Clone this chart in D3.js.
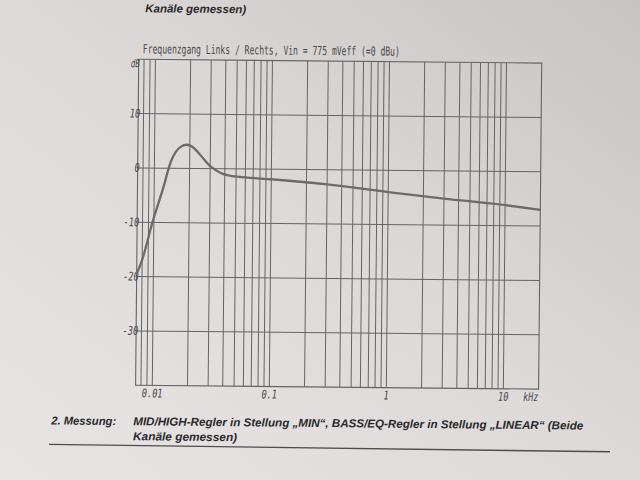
<!DOCTYPE html>
<html>
<head>
<meta charset="utf-8">
<script src="https://cdn.jsdelivr.net/npm/d3@7"></script>
<style>
  body { margin: 0; background: #dcd8d8; }
  svg { display: block; }
</style>
</head>
<body>
<div id="chart"></div>
<script>

// Frequency response plot (photo of a printed sheet)

// Set dimensions and margins for plot
const width = 640;
const height = 480;
const margin = {left:137, right:100, bottom:93, top:61};

// Measured curve, frequency in kHz and level in dB
const freqs = [0.0072, 0.008, 0.0097, 0.012, 0.0138, 0.0152, 0.0168, 0.0188, 0.021, 0.0235,
               0.0265, 0.0295, 0.032, 0.038, 0.044, 0.06, 0.1, 0.3, 1, 3, 10, 20];
const levels = [-19.5, -16.9, -10.1, -3.5, 1.2, 3.0, 4.0, 4.35, 4.0, 3.0,
                1.7, 0.6, 0.0, -0.9, -1.25, -1.55, -1.85, -2.7, -4.0, -5.1, -6.2, -7.0];

// Axis ticks and labels
const xTicks = [0.01, 0.1, 1, 10];
const xTickLabels = ["0.01", "0.1", "1", "10"];
const yTicks = [10, 0, -10, -20, -30];
const yTickLabels = ["10", "0", "-10", "-20", "-30"];

const data = freqs.map((f, i) => ({f: f, db: levels[i]}));

const svg = d3
  .select("#chart")
  .append("svg")
  .attr("width", width)
  .attr("height", height)
  .attr("viewBox", [0, 0, width, height]);

// Paper background, a bit darker top right
const grad = svg.append("defs").append("linearGradient")
  .attr("id", "paper")
  .attr("x1", 0).attr("y1", 1).attr("x2", 1).attr("y2", 0);
grad.append("stop").attr("offset", "0%").attr("stop-color", "#e7e5e3");
grad.append("stop").attr("offset", "55%").attr("stop-color", "#dcd8d8");
grad.append("stop").attr("offset", "100%").attr("stop-color", "#c9c4c4");

svg.append("rect")
  .attr("width", width)
  .attr("height", height)
  .attr("fill", "url(#paper)");

// The sheet is slightly turned in the photo
const page = svg.append("g")
  .attr("transform", "rotate(0.55, 320, 240)");

/*

  Scales

*/

let xScale = d3.scaleLog()
  .domain([0.0072, 20])
  .range([margin.left, width - margin.right]);

let yScale = d3.scaleLinear()
  .domain([-40, 20])
  .range([height - margin.bottom, margin.top]);

const x0 = xScale.range()[0], x1 = xScale.range()[1];
const y0 = yScale.range()[0], y1 = yScale.range()[1];

const plotFont = "'DejaVu Sans Mono', monospace";
const gridColor = "#676363";
const labelColor = "#4a4848";

/*

  Grid

*/

// vertical lines at 1..9 of every decade
page.append("g")
  .selectAll("line")
  .data(xScale.ticks().filter(d => d > 0.0072 && d < 20))
  .enter()
  .append("line")
    .attr("x1", d => xScale(d))
    .attr("x2", d => xScale(d))
    .attr("y1", y1)
    .attr("y2", y0)
    .attr("stroke", gridColor)
    .attr("stroke-width", 1);

// horizontal lines every 10 dB
page.append("g")
  .selectAll("line")
  .data(yTicks)
  .enter()
  .append("line")
    .attr("x1", x0)
    .attr("x2", x1)
    .attr("y1", d => yScale(d))
    .attr("y2", d => yScale(d))
    .attr("stroke", gridColor)
    .attr("stroke-width", 1);

// frame
page.append("rect")
  .attr("x", x0)
  .attr("y", y1)
  .attr("width", x1 - x0)
  .attr("height", y0 - y1)
  .attr("fill", "none")
  .attr("stroke", gridColor)
  .attr("stroke-width", 1.1);

/*

  Axis labels

*/

page.append("g")
  .selectAll("text")
  .data(yTicks)
  .enter()
  .append("text")
    .attr("x", x0 + 2)
    .attr("y", d => yScale(d) + 4)
    .attr("text-anchor", "end")
    .attr("font-family", plotFont)
    .attr("font-style", "oblique")
    .attr("font-size", "12px")
    .attr("fill", labelColor)
    .attr("transform", d => `translate(${x0 + 2},${yScale(d)}) scale(0.72,1) translate(${-(x0 + 2)},${-yScale(d)})`)
    .text((d, i) => yTickLabels[i]);

page.append("text")
  .attr("x", x0 + 1)
  .attr("y", y1 + 8)
  .attr("text-anchor", "end")
  .attr("font-family", plotFont)
  .attr("font-style", "oblique")
  .attr("font-size", "11px")
  .attr("fill", labelColor)
  .attr("textLength", 9)
  .attr("lengthAdjust", "spacingAndGlyphs")
  .text("dB");

page.append("g")
  .selectAll("text")
  .data(xTicks)
  .enter()
  .append("text")
    .attr("x", d => xScale(d))
    .attr("y", y0 + 12)
    .attr("text-anchor", "middle")
    .attr("font-family", plotFont)
    .attr("font-style", "oblique")
    .attr("font-size", "12px")
    .attr("fill", labelColor)
    .attr("transform", d => `translate(${xScale(d)},0) scale(0.72,1) translate(${-xScale(d)},0)`)
    .text((d, i) => xTickLabels[i]);

page.append("text")
  .attr("x", xScale(10) + 20)
  .attr("y", y0 + 12)
  .attr("font-family", plotFont)
  .attr("font-style", "oblique")
  .attr("font-size", "12px")
  .attr("fill", labelColor)
  .attr("textLength", 15)
  .attr("lengthAdjust", "spacingAndGlyphs")
  .text("kHz");

// plot title
page.append("text")
  .attr("x", x0 + 4)
  .attr("y", y1 - 6)
  .attr("font-family", plotFont)
  .attr("font-size", "12.5px")
  .attr("fill", labelColor)
  .attr("textLength", 257)
  .attr("lengthAdjust", "spacingAndGlyphs")
  .text("Frequenzgang Links / Rechts, Vin = 775 mVeff (=0 dBu)");

/*

  Curve

*/

const line = d3.line()
  .x(d => xScale(d.f))
  .y(d => yScale(d.db))
  .curve(d3.curveMonotoneX);

page.append("path")
  .datum(data)
  .attr("d", line)
  .attr("fill", "none")
  .attr("stroke", "#6c6a6a")
  .attr("stroke-width", 2.3)
  .attr("stroke-linejoin", "round");

/*

  Sheet text

*/

const sheetFont = "'Liberation Sans', Arial, sans-serif";

function sheetText(x, y, len, str) {
  page.append("text")
    .attr("x", x)
    .attr("y", y)
    .attr("font-family", sheetFont)
    .attr("font-weight", "bold")
    .attr("font-style", "italic")
    .attr("font-size", "11.5px")
    .attr("fill", "#2b2a2a")
    .attr("textLength", len)
    .attr("lengthAdjust", "spacingAndGlyphs")
    .text(str);
}

sheetText(143, 14, 101, "Kanäle gemessen)");
sheetText(53, 427, 65, "2. Messung:");
sheetText(135, 427, 450, "MID/HIGH-Regler in Stellung „MIN“, BASS/EQ-Regler in Stellung „LINEAR“ (Beide");
sheetText(135, 442, 104, "Kanäle gemessen)");

// rule under the text
page.append("line")
  .attr("x1", 51)
  .attr("x2", 612)
  .attr("y1", 447)
  .attr("y2", 449)
  .attr("stroke", "#4e4c4c")
  .attr("stroke-width", 1.4);

</script>
</body>
</html>
